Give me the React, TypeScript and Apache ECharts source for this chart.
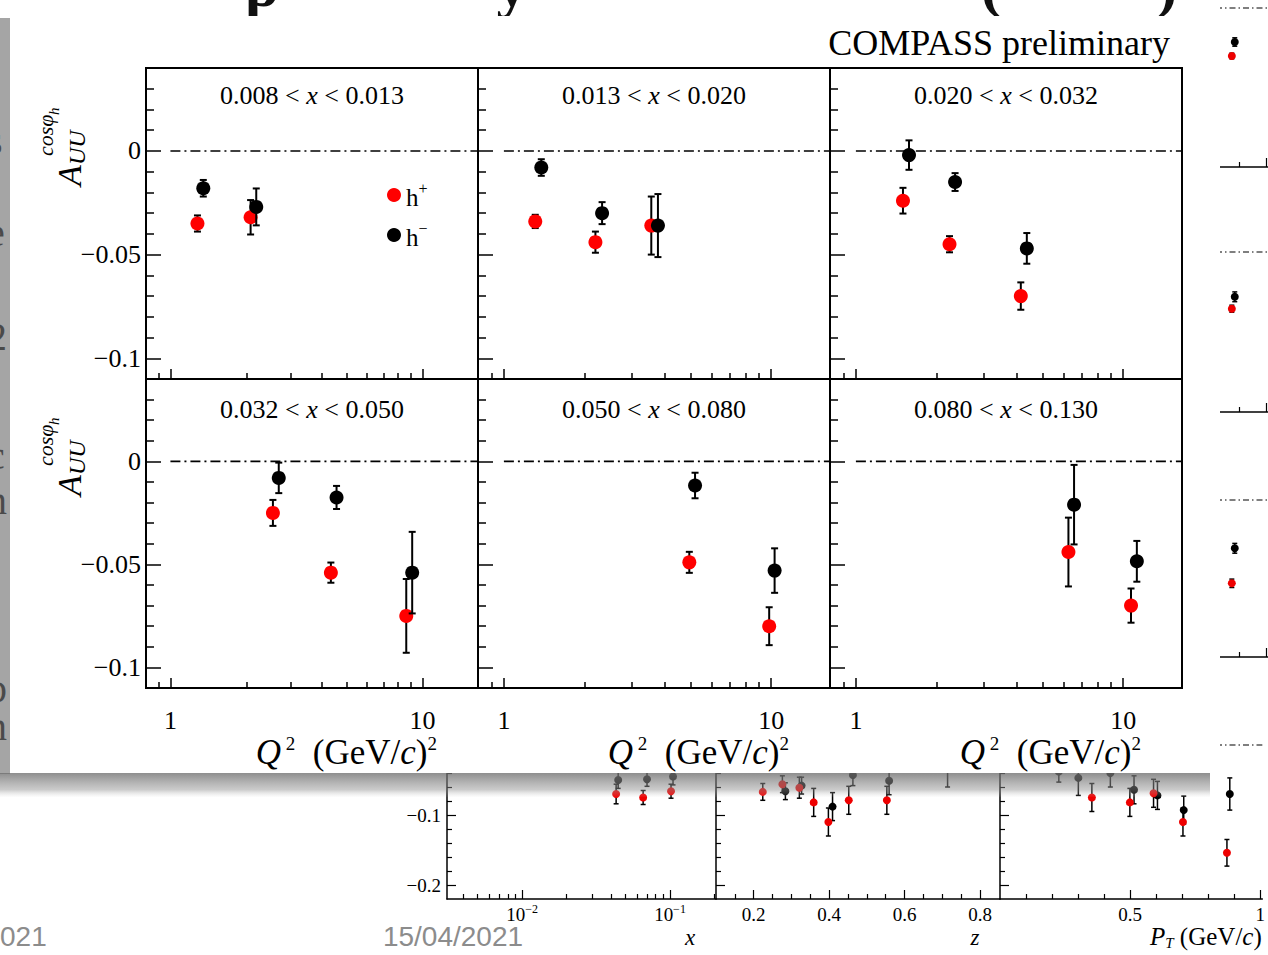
import React, { useEffect, useRef } from 'react';
import * as echarts from 'echarts';

const SERIF = '"Liberation Serif", "DejaVu Serif", serif';
const SANS_NARROW = '"Liberation Sans Narrow", "Liberation Sans", sans-serif';

// ================= main figure =================
const xMin = 0.8;
const xMax = 16.6;
const yMin = -0.11;
const yMax = 0.04;
const xMajorTicks = [1, 10];
const xMinorTicks = [0.9, 2, 3, 4, 5, 6, 7, 8, 9];
const yMajorTicks = [0, -0.05, -0.1];
const yMinorTicks = [0.03, 0.02, 0.01, -0.01, -0.02, -0.03, -0.04, -0.06, -0.07, -0.08, -0.09];
const zeroLineStart = 1;

const binLow = ['0.008', '0.013', '0.020', '0.032', '0.050', '0.080'];
const binHigh = ['0.013', '0.020', '0.032', '0.050', '0.080', '0.130'];

// h+ : Q^2, A, error
const q2Pos = [
  [1.28, 2.08],
  [1.31, 2.2, 3.56],
  [1.5, 2.24, 4.14],
  [2.55, 4.33, 8.62],
  [4.94, 9.83],
  [6.24, 10.7],
];
const aPos = [
  [-0.035, -0.032],
  [-0.034, -0.044, -0.036],
  [-0.024, -0.045, -0.07],
  [-0.025, -0.054, -0.075],
  [-0.049, -0.08],
  [-0.044, -0.07],
];
const ePos = [
  [0.0039, 0.0083],
  [0.0032, 0.0051, 0.014],
  [0.0062, 0.0039, 0.0066],
  [0.0063, 0.0049, 0.0179],
  [0.0051, 0.0092],
  [0.0167, 0.0083],
];
// h- : Q^2, A, error
const q2Neg = [
  [1.35, 2.19],
  [1.38, 2.33, 3.77],
  [1.58, 2.35, 4.36],
  [2.69, 4.56, 9.1],
  [5.19, 10.3],
  [6.55, 11.25],
];
const aNeg = [
  [-0.018, -0.027],
  [-0.008, -0.03, -0.036],
  [-0.002, -0.015, -0.047],
  [-0.008, -0.0175, -0.054],
  [-0.0117, -0.053],
  [-0.021, -0.0485],
];
const eNeg = [
  [0.004, 0.0089],
  [0.004, 0.0053, 0.0152],
  [0.0071, 0.0043, 0.0074],
  [0.0074, 0.0056, 0.0198],
  [0.0062, 0.0108],
  [0.0193, 0.0099],
];

// ================= slide figure behind (partly hidden) =================
const bgYMaxRows = [0.0114, 0.125, 0.125, 0.125];
const bgYMajor = [0, -0.1, -0.2];
const bgYMinor = [0.12, 0.1, 0.08, 0.06, 0.04, 0.02, -0.02, -0.04, -0.06, -0.08, -0.12, -0.14, -0.16, -0.18];
// x panel (log)
const bgXMin = 0.0031;
const bgXMax = 0.2047;
const bgXMajor = [0.01, 0.1];
const bgXMinor = [0.004, 0.005, 0.006, 0.007, 0.008, 0.009, 0.02, 0.03, 0.04, 0.05, 0.06, 0.07, 0.08, 0.09, 0.2];
const bgXPosX = [0.0432, 0.0658, 0.1016];
const bgXPosA = [-0.07, -0.075, -0.066];
const bgXPosE = [0.014, 0.01, 0.01];
const bgXNegX = [0.0446, 0.0699, 0.1048];
const bgXNegA = [-0.05, -0.049, -0.045];
const bgXNegE = [0.012, 0.01, 0.012];
// z panel
const bgZMin = 0.1;
const bgZMax = 0.853;
const bgZMajor = [0.2, 0.4, 0.6, 0.8];
const bgZMinor = [0.15, 0.25, 0.3, 0.35, 0.45, 0.5, 0.55, 0.65, 0.7, 0.75];
const bgZPosX = [0.224, 0.276, 0.321, 0.359, 0.398, 0.452, 0.553];
const bgZPosA = [-0.067, -0.056, -0.061, -0.082, -0.11, -0.079, -0.079];
const bgZPosE = [0.012, 0.012, 0.015, 0.02, 0.02, 0.02, 0.02];
const bgZNegX = [0.284, 0.327, 0.409, 0.463, 0.559, 0.714];
const bgZNegA = [-0.066, -0.058, -0.088, -0.043, -0.051, -0.03];
const bgZNegE = [0.012, 0.012, 0.02, 0.015, 0.02, 0.03];
// P_T panel (4 rows; only its right edge and last row visible)
const bgPMin = 0;
const bgPMax = 1.008;
const bgPMajor = [0.5, 1];
const bgPMinor = [0.1, 0.2, 0.3, 0.4, 0.6, 0.7, 0.8, 0.9];
const bgPPosX = [[0.872], [0.872], [0.872], [0.353, 0.499, 0.59, 0.703, 0.872]];
const bgPPosA = [[-0.0686], [-0.081], [-0.119], [-0.075, -0.082, -0.069, -0.11, -0.154]];
const bgPPosE = [[0.004], [0.005], [0.006], [0.02, 0.02, 0.02, 0.02, 0.019]];
const bgPNegX = [[0.883], [0.883], [0.883], [0.226, 0.301, 0.424, 0.515, 0.605, 0.706, 0.883]];
const bgPNegA = [[-0.0486], [-0.064], [-0.069], [-0.038, -0.047, -0.04, -0.064, -0.072, -0.093, -0.07]];
const bgPNegE = [[0.006], [0.007], [0.007], [0.015, 0.025, 0.02, 0.02, 0.02, 0.02, 0.023]];

// ================= layout =================
const COLS = [
  { left: 146, width: 332 },
  { left: 478, width: 352 },
  { left: 830, width: 352 },
];
const ROWS = [
  { top: 68, height: 311 },
  { top: 379, height: 309 },
];
const BG_ROWS = [
  { top: 0, height: 167 },
  { top: 164.5, height: 247.5 },
  { top: 412.5, height: 244.5 },
  { top: 657.5, height: 241.5 },
];
const BG_PX_PER_UNIT = 700;

const makeErr = (cap: number, lw: number) => (params: any, api: any) => {
  const x = api.value(0);
  const y = api.value(1);
  const e = api.value(2);
  const top = api.coord([x, y + e]);
  const bot = api.coord([x, y - e]);
  const st = { stroke: '#000', lineWidth: lw };
  return {
    type: 'group',
    children: [
      { type: 'line', shape: { x1: top[0], y1: top[1], x2: bot[0], y2: bot[1] }, style: st },
      { type: 'line', shape: { x1: top[0] - cap, y1: top[1], x2: top[0] + cap, y2: top[1] }, style: st },
      { type: 'line', shape: { x1: bot[0] - cap, y1: bot[1], x2: bot[0] + cap, y2: bot[1] }, style: st },
    ],
  };
};

function buildOption() {
  const grid: any[] = [];
  const xAxis: any[] = [];
  const yAxis: any[] = [];
  const series: any[] = [];
  const graphic: any[] = [];

  const addPanel = (cfg: any) => {
    const gi = grid.length;
    grid.push({
      left: cfg.left,
      top: cfg.top,
      width: cfg.width,
      height: cfg.height,
      show: cfg.gridShow,
      borderColor: '#000',
      borderWidth: cfg.border,
      backgroundColor: 'transparent',
      z: cfg.z,
    });
    const xBase = {
      type: cfg.xType,
      gridIndex: gi,
      min: cfg.xMin,
      max: cfg.xMax,
      position: 'bottom',
      splitLine: { show: false },
      z: cfg.z,
    };
    const xi = xAxis.length;
    xAxis.push({
      ...xBase,
      axisLine: { show: !!cfg.xLine, onZero: false, lineStyle: { color: '#000', width: cfg.border } },
      axisTick: { show: true, inside: true, length: cfg.xMajLen, customValues: cfg.xMajor, lineStyle: { color: '#000', width: cfg.tickW } },
      axisLabel: {
        show: cfg.showX,
        customValues: cfg.xMajor,
        margin: cfg.xMargin,
        fontSize: cfg.font,
        lineHeight: cfg.font + 4,
        fontFamily: SERIF,
        color: '#000',
        formatter: cfg.xFmt,
        rich: cfg.xRich,
      },
    });
    xAxis.push({
      ...xBase,
      axisLine: { show: false, onZero: false },
      axisTick: { show: true, inside: true, length: cfg.xMinLen, customValues: cfg.xMinor, lineStyle: { color: '#000', width: cfg.tickW } },
      axisLabel: { show: false, customValues: cfg.xMinor },
    });
    const yBase = {
      type: 'value',
      gridIndex: gi,
      min: cfg.yMin,
      max: cfg.yMax,
      position: 'left',
      splitLine: { show: false },
      z: cfg.z,
    };
    const yi = yAxis.length;
    const yTicks = cfg.yTicks !== false;
    yAxis.push({
      ...yBase,
      axisLine: { show: !!cfg.yLine, onZero: false, lineStyle: { color: '#000', width: cfg.border } },
      axisTick: { show: yTicks, inside: true, length: cfg.yMajLen, customValues: cfg.yMajor, lineStyle: { color: '#000', width: cfg.tickW } },
      axisLabel: {
        show: cfg.showY,
        customValues: cfg.yMajor,
        margin: cfg.yMargin,
        fontSize: cfg.font,
        fontFamily: SERIF,
        color: '#000',
        formatter: (v: number) => (v === 0 ? '0' : '\u2212' + String(Math.abs(v))),
      },
    });
    yAxis.push({
      ...yBase,
      axisLine: { show: false, onZero: false },
      axisTick: { show: yTicks, inside: true, length: cfg.yMinLen, customValues: cfg.yMinor, lineStyle: { color: '#000', width: cfg.tickW } },
      axisLabel: { show: false, customValues: cfg.yMinor },
    });
    return { xi, yi };
  };

  const addData = (ax: any, xs: number[], ys: number[], es: number[], name: string, color: string, size: number, cap: number, lw: number, z: number) => {
    series.push({
      type: 'custom',
      name: name + '-err',
      xAxisIndex: ax.xi,
      yAxisIndex: ax.yi,
      data: xs.map((q, i) => [q, ys[i], es[i]]),
      encode: { x: 0, y: 1 },
      renderItem: makeErr(cap, lw),
      silent: true,
      z: z,
    });
    series.push({
      type: 'scatter',
      name,
      xAxisIndex: ax.xi,
      yAxisIndex: ax.yi,
      data: xs.map((q, i) => [q, ys[i]]),
      symbol: 'circle',
      symbolSize: size,
      itemStyle: { color, opacity: 1 },
      silent: true,
      z: z + 1,
    });
  };

  const addZero = (ax: any, from: number, to: number, lw: number, z: number, dash: number[]) => {
    series.push({
      type: 'line',
      name: 'zero',
      xAxisIndex: ax.xi,
      yAxisIndex: ax.yi,
      data: [
        [from, 0],
        [to, 0],
      ],
      symbol: 'none',
      silent: true,
      lineStyle: { color: '#000', width: lw, type: dash },
      z,
    });
  };

  // ---------- background slide figure ----------
  const bgCommon = {
    gridShow: false,
    border: 1.5,
    z: 1,
    yMajor: bgYMajor,
    yMinor: bgYMinor,
    xMajLen: 9,
    xMinLen: 5,
    yMajLen: 9,
    yMinLen: 5,
    tickW: 1.2,
    font: 19,
    xMargin: 4,
    yMargin: 6,
    xLine: true,
    yLine: true,
  };
  const bgRowRange = (r: number) => ({
    top: BG_ROWS[r].top,
    height: BG_ROWS[r].height,
    yMax: bgYMaxRows[r],
    yMin: bgYMaxRows[r] - BG_ROWS[r].height / BG_PX_PER_UNIT,
  });
  const bgDash = [6, 3, 1.5, 3];

  const bgA = addPanel({
    ...bgCommon,
    ...bgRowRange(3),
    left: 447,
    width: 269,
    xType: 'log',
    xMin: bgXMin,
    xMax: bgXMax,
    xMajor: bgXMajor,
    xMinor: bgXMinor,
    showX: true,
    showY: true,
    xFmt: (v: number) => (v < 0.05 ? '10{s|\u22122}' : '10{s|\u22121}'),
    xRich: { s: { fontFamily: SERIF, fontSize: 12, verticalAlign: 'top', color: '#000' } },
  });
  addZero(bgA, bgXMin, bgXMax, 1.2, 2, bgDash);
  addData(bgA, bgXNegX, bgXNegA, bgXNegE, 'bg-', '#000', 8, 2.5, 1.5, 3);
  addData(bgA, bgXPosX, bgXPosA, bgXPosE, 'bg+', '#ee0000', 8, 2.5, 1.5, 3);

  const bgB = addPanel({
    ...bgCommon,
    ...bgRowRange(3),
    left: 716,
    width: 284,
    xType: 'value',
    xMin: bgZMin,
    xMax: bgZMax,
    xMajor: bgZMajor,
    xMinor: bgZMinor,
    showX: true,
    showY: false,
    xFmt: (v: number) => v.toFixed(1),
  });
  addZero(bgB, bgZMin, bgZMax, 1.2, 2, bgDash);
  addData(bgB, bgZNegX, bgZNegA, bgZNegE, 'bg-', '#000', 8, 2.5, 1.5, 3);
  addData(bgB, bgZPosX, bgZPosA, bgZPosE, 'bg+', '#ee0000', 8, 2.5, 1.5, 3);

  for (let r = 0; r < 4; r++) {
    const ax = addPanel({
      ...bgCommon,
      ...bgRowRange(r),
      left: 1000,
      width: 268,
      xType: 'value',
      xMin: bgPMin,
      xMax: bgPMax,
      xMajor: bgPMajor,
      xMinor: bgPMinor,
      showX: r === 3,
      showY: false,
      yLine: r === 3,
      yTicks: r === 3,
      xFmt: (v: number) => String(v),
    });
    addZero(ax, bgPMin, bgPMax, 1.2, 2, bgDash);
    addData(ax, bgPNegX[r], bgPNegA[r], bgPNegE[r], 'bg-', '#000', 8, 2.5, 1.5, 3);
    addData(ax, bgPPosX[r], bgPPosA[r], bgPPosE[r], 'bg+', '#ee0000', 8, 2.5, 1.5, 3);
  }

  // background axis titles
  const bgTitleStyle = { fontFamily: SERIF, fontSize: 25, fill: '#000' };
  graphic.push({ type: 'text', x: 690, y: 937, z: 1, style: { text: 'x', font: `italic 23px ${SERIF}`, fill: '#000', align: 'center', verticalAlign: 'middle' } });
  graphic.push({ type: 'text', x: 975, y: 937, z: 1, style: { text: 'z', font: `italic 23px ${SERIF}`, fill: '#000', align: 'center', verticalAlign: 'middle' } });
  graphic.push({
    type: 'text',
    x: 1150,
    y: 937,
    z: 1,
    style: {
      text: '{i|P}{sub|T}{n| (GeV/}{i|c}{n|)}',
      align: 'left',
      verticalAlign: 'middle',
      rich: {
        i: { ...bgTitleStyle, fontStyle: 'italic', lineHeight: 26, verticalAlign: 'top' },
        n: { ...bgTitleStyle, lineHeight: 26, verticalAlign: 'top' },
        sub: { ...bgTitleStyle, fontSize: 15, fontStyle: 'italic', verticalAlign: 'bottom' },
      },
    },
  });
  graphic.push({ type: 'text', x: 0, y: 936, z: 0, style: { text: '021', font: `28px ${SANS_NARROW}`, fill: '#8c8c8c', align: 'left', verticalAlign: 'middle' } });
  graphic.push({ type: 'text', x: 453, y: 936, z: 0, style: { text: '15/04/2021', font: `28px ${SANS_NARROW}`, fill: '#8c8c8c', align: 'center', verticalAlign: 'middle' } });

  // slide text fragments peeking out on the left
  const sideLetters = [
    ['s', 140],
    ['e', 232],
    ['2', 336],
    ['c', 455],
    ['n', 500],
    ['p', 688],
    ['n', 726],
  ];
  sideLetters.forEach(([t, yy]) => {
    graphic.push({ type: 'text', x: -13, y: yy, z: 0, style: { text: t, font: `40px ${SERIF}`, fill: '#111', align: 'left', verticalAlign: 'middle' } });
  });

  // pasted figure: white card and its shadow
  graphic.push({ type: 'rect', z: 5, shape: { x: 10, y: 0, width: 1210, height: 773 }, style: { fill: '#ffffff' } });
  graphic.push({ type: 'rect', z: 5, shape: { x: 0, y: 18, width: 10, height: 756 }, style: { fill: 'rgba(110,110,110,0.62)' } });
  graphic.push({
    type: 'rect',
    z: 5,
    shape: { x: 0, y: 773, width: 1210, height: 24 },
    style: {
      fill: new echarts.graphic.LinearGradient(0, 0, 0, 1, [
        { offset: 0, color: 'rgba(110,110,110,0.78)' },
        { offset: 0.7, color: 'rgba(140,140,140,0.45)' },
        { offset: 1, color: 'rgba(200,200,200,0.05)' },
      ]),
    },
  });
  // slide title glyph bottoms peeking above the card
  const topLetters = [
    ['p', 262],
    ['y', 512],
    ['(', 991],
    [')', 1167],
  ];
  topLetters.forEach(([t, xx]) => {
    graphic.push({ type: 'text', x: xx, y: 16, z: 6, style: { text: t, font: `bold 62px ${SERIF}`, fill: '#111', align: 'center', verticalAlign: 'bottom' } });
  });
  graphic.push({ type: 'rect', z: 7, shape: { x: 10, y: 16, width: 1210, height: 10 }, style: { fill: '#ffffff' } });

  // ---------- main figure ----------
  for (let p = 0; p < 6; p++) {
    const col = p % 3;
    const row = Math.floor(p / 3);
    const g = { left: COLS[col].left, top: ROWS[row].top, width: COLS[col].width, height: ROWS[row].height };
    const ax = addPanel({
      ...g,
      gridShow: true,
      border: 2,
      z: 10,
      xType: 'log',
      xMin,
      xMax,
      xMajor: xMajorTicks,
      xMinor: xMinorTicks,
      yMin,
      yMax,
      yMajor: yMajorTicks,
      yMinor: yMinorTicks,
      xMajLen: 10,
      xMinLen: 6,
      yMajLen: 15,
      yMinLen: 8,
      tickW: 1.5,
      font: 26,
      xMargin: 17,
      yMargin: 5,
      showX: row === 1,
      showY: col === 0,
      xFmt: (v: number) => String(Math.round(v)),
    });
    addZero(ax, zeroLineStart, xMax, 1.6, 11, [10, 4, 2, 4]);
    addData(ax, q2Pos[p], aPos[p], ePos[p], 'h+', '#ff0000', 14, 3.5, 2, 12);
    addData(ax, q2Neg[p], aNeg[p], eNeg[p], 'h-', '#000000', 14, 3.5, 2, 14);

    graphic.push({
      type: 'text',
      x: g.left + g.width / 2,
      y: g.top + (row === 0 ? 27 : 30),
      z: 20,
      style: {
        text: `{n|${binLow[p]} < }{i|x}{n| < ${binHigh[p]}}`,
        align: 'center',
        verticalAlign: 'middle',
        rich: {
          n: { fontFamily: SERIF, fontSize: 26, fill: '#000' },
          i: { fontFamily: SERIF, fontSize: 26, fontStyle: 'italic', fill: '#000' },
        },
      },
    });

    if (row === 1) {
      graphic.push({
        type: 'text',
        x: g.left + g.width - 41,
        y: 752,
        z: 20,
        style: {
          text: '{q|Q}{s| 2}{n|  (GeV/}{c|c}{n|)}{s|2}',
          align: 'right',
          verticalAlign: 'middle',
          rich: {
            q: { fontFamily: SERIF, fontSize: 35, fontStyle: 'italic', fill: '#000', lineHeight: 36, verticalAlign: 'bottom' },
            n: { fontFamily: SERIF, fontSize: 35, fill: '#000', lineHeight: 36, verticalAlign: 'bottom' },
            c: { fontFamily: SERIF, fontSize: 35, fontStyle: 'italic', fill: '#000', lineHeight: 36, verticalAlign: 'bottom' },
            s: { fontFamily: SERIF, fontSize: 19, fill: '#000', verticalAlign: 'top' },
          },
        },
      });
    }
  }

  // y axis titles
  [186, 496].forEach((yy) => {
    graphic.push({
      type: 'group',
      x: 86,
      y: yy,
      rotation: Math.PI / 2,
      z: 20,
      children: [
        { type: 'text', z: 20, x: 0, y: 0, style: { text: 'A', font: `italic 34px ${SERIF}`, fill: '#000', align: 'left', verticalAlign: 'bottom' } },
        { type: 'text', z: 20, x: 21, y: 3, style: { text: 'UU', font: `italic 24px ${SERIF}`, fill: '#000', align: 'left', verticalAlign: 'bottom' } },
        { type: 'text', z: 20, x: 30, y: -30, style: { text: 'cos\u03c6', font: `italic 22px ${SERIF}`, fill: '#000', align: 'left', verticalAlign: 'bottom' } },
        { type: 'text', z: 20, x: 71, y: -25, style: { text: 'h', font: `italic 15px ${SERIF}`, fill: '#000', align: 'left', verticalAlign: 'bottom' } },
      ],
    });
  });

  graphic.push({
    type: 'text',
    x: 1170,
    y: 43,
    z: 20,
    style: { text: 'COMPASS preliminary', font: `36px ${SERIF}`, fill: '#000', align: 'right', verticalAlign: 'middle' },
  });

  return {
    animation: false,
    backgroundColor: '#ffffff',
    grid,
    xAxis,
    yAxis,
    series,
    graphic,
    legend: {
      data: ['h+', 'h-'],
      orient: 'vertical',
      left: 382,
      top: 175,
      itemWidth: 14,
      itemHeight: 14,
      itemGap: 10,
      icon: 'circle',
      selectedMode: false,
      z: 20,
      formatter: (n: string) => (n === 'h+' ? '{b|h}{s|+}' : '{b|h}{s|\u2212}'),
      textStyle: {
        rich: {
          b: { fontFamily: SERIF, fontSize: 25, color: '#000', lineHeight: 30, verticalAlign: 'bottom' },
          s: { fontFamily: SERIF, fontSize: 16, color: '#000', verticalAlign: 'top' },
        },
      },
    },
  };
}

export default function App() {
  const ref = useRef<HTMLDivElement>(null);
  useEffect(() => {
    if (!ref.current) return;
    const chart = echarts.init(ref.current, undefined, { renderer: 'svg' });
    chart.setOption(buildOption() as any);
    return () => chart.dispose();
  }, []);
  return <div ref={ref} style={{ position: 'absolute', left: 0, top: 0, width: 1268, height: 955 }} />;
}
